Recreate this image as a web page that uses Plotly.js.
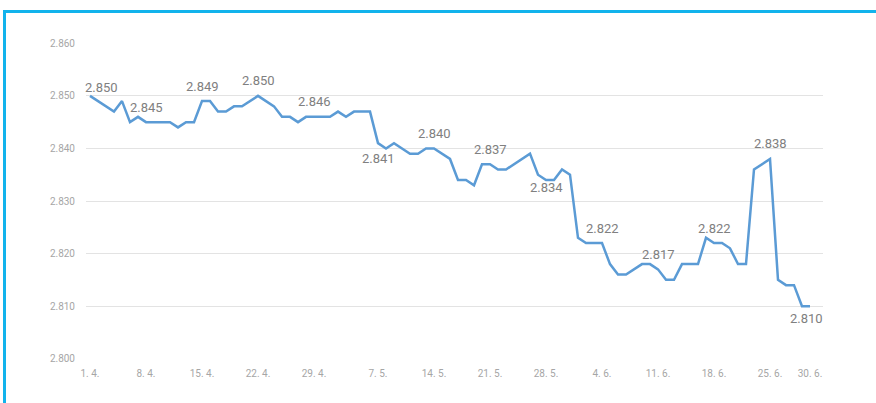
<!DOCTYPE html>
<html>
<head>
<meta charset="utf-8">
<script src="https://cdn.plot.ly/plotly-3.0.1.min.js"></script>
<style>
  html, body { margin: 0; padding: 0; overflow: hidden; background: #ffffff; width: 876px; height: 403px; }
  #chart { position: absolute; left: 0; top: 0; width: 876px; height: 403px; }
  #frame { position: absolute; left: 3px; top: 10px; width: 1000px; height: 1000px;
           border-top: 3px solid #12b3ec; border-left: 3px solid #12b3ec; pointer-events: none; }
</style>
</head>
<body>
<div id="chart"></div>
<div id="frame"></div>
<script>
// ---- data ----
const dates = [
  '2023-04-01','2023-04-04','2023-04-05','2023-04-06','2023-04-07','2023-04-08','2023-04-09','2023-04-10',
  '2023-04-11','2023-04-12','2023-04-13','2023-04-14','2023-04-15','2023-04-16','2023-04-17','2023-04-18',
  '2023-04-19','2023-04-20','2023-04-22','2023-04-24','2023-04-25','2023-04-26','2023-04-27','2023-04-28',
  '2023-04-29','2023-04-30','2023-05-01','2023-05-02','2023-05-03','2023-05-04','2023-05-05','2023-05-06',
  '2023-05-07','2023-05-08','2023-05-09','2023-05-11','2023-05-12','2023-05-13','2023-05-14','2023-05-16',
  '2023-05-17','2023-05-18','2023-05-19','2023-05-20','2023-05-21','2023-05-22','2023-05-23','2023-05-26',
  '2023-05-27','2023-05-28','2023-05-29','2023-05-30','2023-05-31','2023-06-01','2023-06-02','2023-06-03',
  '2023-06-04','2023-06-05','2023-06-06','2023-06-07','2023-06-09','2023-06-10','2023-06-11','2023-06-12',
  '2023-06-13','2023-06-14','2023-06-15','2023-06-16','2023-06-17','2023-06-18','2023-06-19','2023-06-20',
  '2023-06-21','2023-06-22','2023-06-23','2023-06-25','2023-06-26','2023-06-27','2023-06-28','2023-06-29',
  '2023-06-30'
];
const values = [
  2.850, 2.847, 2.849, 2.845, 2.846, 2.845, 2.845, 2.845,
  2.845, 2.844, 2.845, 2.845, 2.849, 2.849, 2.847, 2.847,
  2.848, 2.848, 2.850, 2.848, 2.846, 2.846, 2.845, 2.846,
  2.846, 2.846, 2.846, 2.847, 2.846, 2.847, 2.847, 2.847,
  2.841, 2.840, 2.841, 2.839, 2.839, 2.840, 2.840, 2.838,
  2.834, 2.834, 2.833, 2.837, 2.837, 2.836, 2.836, 2.839,
  2.835, 2.834, 2.834, 2.836, 2.835, 2.823, 2.822, 2.822,
  2.822, 2.818, 2.816, 2.816, 2.818, 2.818, 2.817, 2.815,
  2.815, 2.818, 2.818, 2.818, 2.823, 2.822, 2.822, 2.821,
  2.818, 2.818, 2.836, 2.838, 2.815, 2.814, 2.814, 2.810,
  2.810
];
// x-axis tick dates and their labels
const tickDates = ['2023-04-01','2023-04-08','2023-04-15','2023-04-22','2023-04-29','2023-05-07','2023-05-14',
                   '2023-05-21','2023-05-28','2023-06-04','2023-06-11','2023-06-18','2023-06-25','2023-06-30'];
const tickLabels = ['1. 4.','8. 4.','15. 4.','22. 4.','29. 4.','7. 5.','14. 5.',
                    '21. 5.','28. 5.','4. 6.','11. 6.','18. 6.','25. 6.','30. 6.'];

// ---- label placement (style only) ----
const labelOffsets = {
  '2023-04-01': {dx: 11, dy: 8},
  '2023-05-07': {dx: 0, dy: -15},
  '2023-05-28': {dx: 0, dy: -8},
  '2023-06-30': {dx: -4, dy: -12}
};

const annotations = tickDates.map(d => {
  const i = dates.indexOf(d);
  const off = labelOffsets[d] || {dx: 0, dy: 15};
  return {
    x: d, y: values[i], xref: 'x', yref: 'y',
    text: values[i].toFixed(3),
    showarrow: false,
    xshift: off.dx, yshift: off.dy,
    xanchor: 'center', yanchor: 'middle',
    font: {family: 'Roboto, sans-serif', size: 13, color: '#808080'}
  };
});

const trace = {
  x: dates, y: values, type: 'scatter', mode: 'lines',
  line: {color: '#5b9bd5', width: 2.5, shape: 'linear'},
  hoverinfo: 'skip'
};

const layout = {
  width: 876, height: 403,
  margin: {l: 86, r: 53, t: 43, b: 44, pad: 0},
  paper_bgcolor: '#ffffff', plot_bgcolor: '#ffffff',
  showlegend: false,
  font: {family: 'Roboto, sans-serif'},
  xaxis: {
    type: 'date',
    range: ['2023-03-31 12:00', '2023-07-01 15:00'],
    tickmode: 'array', tickvals: tickDates, ticktext: tickLabels,
    showgrid: false, zeroline: false, showline: false, ticks: '',
    ticklabelstandoff: 7,
    tickfont: {family: 'Roboto, sans-serif', size: 10, color: '#a6a6a6'}
  },
  yaxis: {
    range: [2.79995, 2.86005],
    tick0: 2.8, dtick: 0.01, tickformat: '.3f',
    showgrid: true, gridcolor: '#e3e3e3', gridwidth: 1,
    zeroline: false, showline: false, ticks: '',
    ticklabelstandoff: 10,
    tickfont: {family: 'Roboto, sans-serif', size: 10, color: '#a6a6a6'}
  },
  annotations: annotations
};

Plotly.newPlot('chart', [trace], layout, {displayModeBar: false, staticPlot: true});
</script>
</body>
</html>
